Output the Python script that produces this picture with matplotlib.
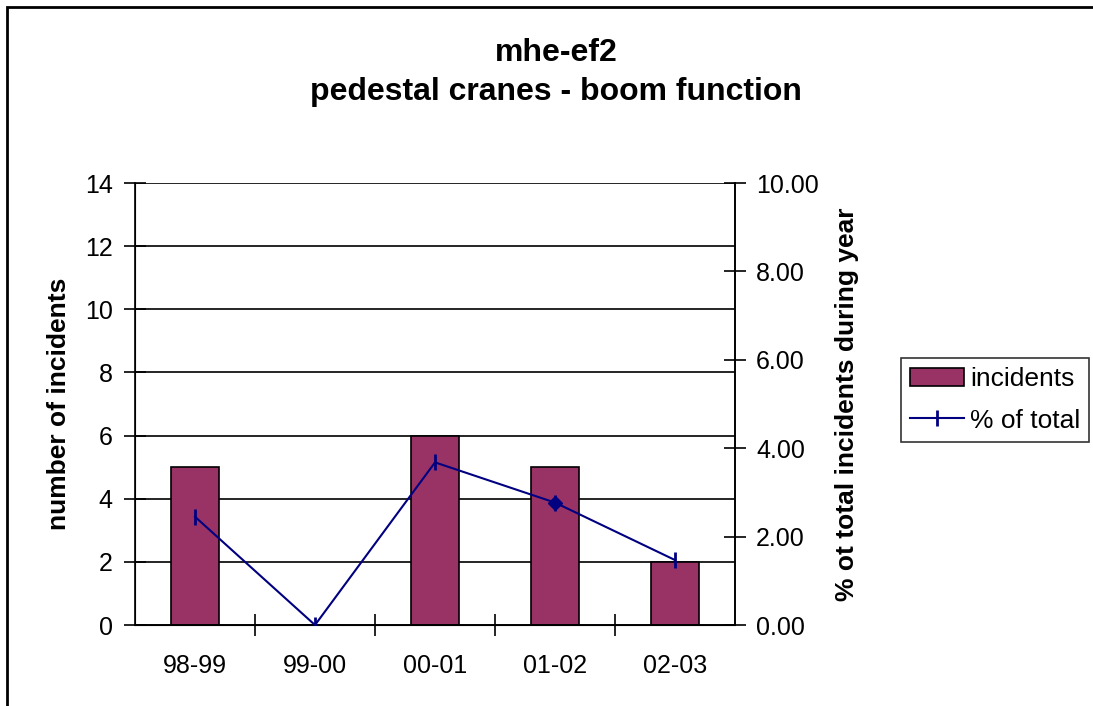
import matplotlib.pyplot as plt
from matplotlib.patches import Rectangle
from matplotlib.lines import Line2D

plt.rcParams['font.family'] = ['Liberation Sans', 'DejaVu Sans']

seasons = ["98-99", "99-00", "00-01", "01-02", "02-03"]
incidents = [5, 0, 6, 5, 2]
pct_total = [2.45, 0.0, 3.68, 2.77, 1.47]

bar_color = "#993366"
line_color = "#000080"

fig = plt.figure(figsize=(10.93, 7.06), dpi=100)
ax = fig.add_axes([0.1235, 0.1147, 0.549, 0.626])
x = list(range(len(seasons)))

ax.set_axisbelow(True)
ax.yaxis.grid(True, color="black", linewidth=1.2)
ax.bar(x, incidents, width=0.4, color=bar_color, edgecolor="black",
       linewidth=1.2, zorder=2)
ax.set_xlim(-0.5, len(seasons) - 0.5)
ax.set_ylim(0, 14)
ax.set_yticks(range(0, 15, 2))
ax.set_xticks(x)
ax.set_xticklabels(seasons)
ax.set_xticks([i + 0.5 for i in x[:-1]], minor=True)
ax.tick_params(axis="x", which="major", length=0, pad=21, labelsize=18)
ax.tick_params(axis="x", which="minor", direction="inout", length=16, width=1.2)
ax.tick_params(axis="y", direction="inout", length=16, width=1.2, labelsize=18, pad=8)
ax.set_ylabel("number of incidents", fontsize=19, fontweight="bold")
ax.yaxis.set_label_coords(-0.107, 0.5)
ax.spines["top"].set_visible(False)
for s in ["left", "right", "bottom"]:
    ax.spines[s].set_linewidth(1.2)

ax2 = ax.twinx()
ax2.plot(x, pct_total, color=line_color, linewidth=1.5, marker="|",
         markersize=12, markeredgewidth=2, zorder=3)
ax2.plot(x[3], pct_total[3], color=line_color, marker="D", markersize=7, linestyle="none")
ax2.set_ylim(0, 10)
ax2.set_yticks(range(0, 11, 2))
ax2.set_yticklabels([f"{v:.2f}" for v in range(0, 11, 2)])
ax2.tick_params(axis="y", direction="inout", length=16, width=1.2, labelsize=18, pad=7)
ax2.set_ylabel("% ot total incidents during year", fontsize=19, fontweight="bold")
ax2.yaxis.set_label_coords(1.166, 0.5)
ax2.spines["top"].set_visible(False)
ax2.spines["right"].set_linewidth(1.2)

fig.text(0.509, 0.925, "mhe-ef2", ha="center", va="center", fontsize=23, fontweight="bold")
fig.text(0.509, 0.869, "pedestal cranes - boom function", ha="center", va="center",
         fontsize=23, fontweight="bold")

handles = [Rectangle((0, 0), 1, 1, facecolor=bar_color, edgecolor="black", linewidth=1.2),
           Line2D([], [], color=line_color, linewidth=1.5, marker="|", markersize=12,
                  markeredgewidth=2)]
leg = fig.legend(handles, ["incidents", "% of total"], loc="center left",
                 bbox_to_anchor=(0.8243, 0.4334), fontsize=19, frameon=True, fancybox=False,
                 edgecolor="black", borderpad=0.34, handlelength=2.05, handletextpad=0.22,
                 labelspacing=0.65, borderaxespad=0)
leg.get_frame().set_linewidth(1.2)

fig.patches.append(Rectangle((0.0064, -0.05), 1.2, 1.04, transform=fig.transFigure,
                             fill=False, edgecolor="black", linewidth=2))

fig.savefig("out.png", dpi=100)
